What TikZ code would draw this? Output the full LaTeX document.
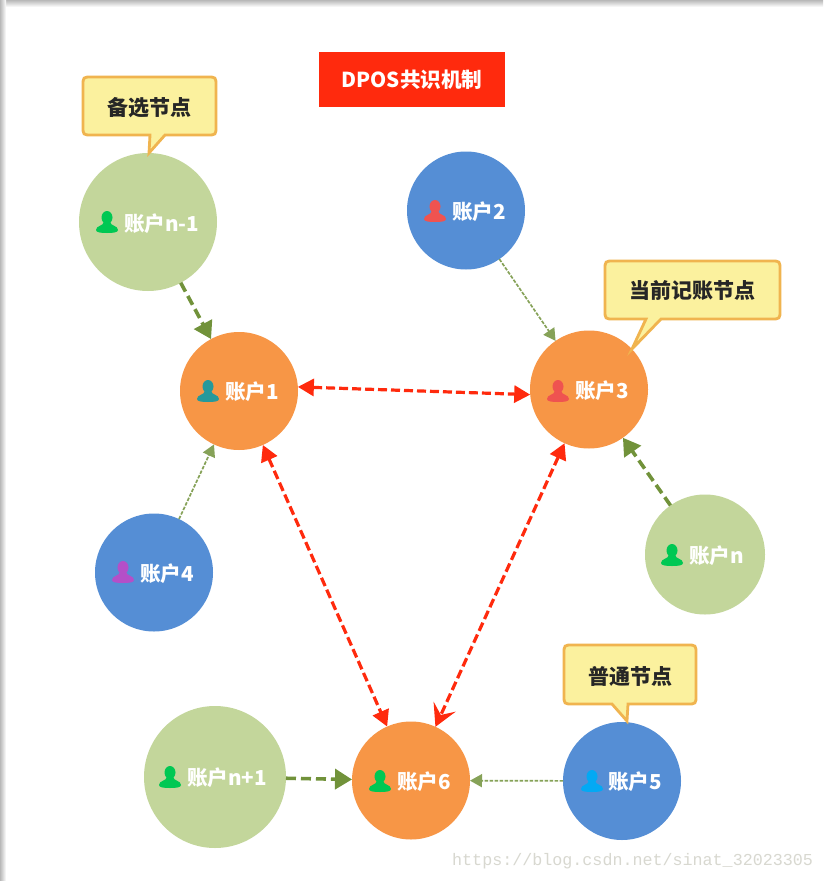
\documentclass[tikz,border=0pt]{standalone}
\usepackage{fontspec}
\setmainfont{Noto Sans CJK SC}
\newfontfamily\wmfont{Liberation Mono}
\usetikzlibrary{arrows.meta}
\definecolor{cOrange}{HTML}{F79646}
\definecolor{cBlue}{HTML}{558ED5}
\definecolor{cLime}{HTML}{C3D69B}
\definecolor{cLine}{HTML}{71923A}
\definecolor{cRed}{HTML}{FF2A0D}
\definecolor{cFill}{HTML}{FBF19E}
\definecolor{cEdge}{HTML}{F0B44F}
\definecolor{cTeal}{HTML}{26999B}
\definecolor{cCoral}{HTML}{EF5350}
\definecolor{cPurple}{HTML}{B44FC8}
\definecolor{cGreen}{HTML}{00C853}
\definecolor{cSky}{HTML}{03A9F4}
\definecolor{cMark}{HTML}{D8D8D0}
\tikzset{
  acct/.style={circle,inner sep=0pt,outer sep=0pt,draw=none},
  orangeacct/.style={acct,fill=cOrange,minimum size=118pt},
  blueacct/.style={acct,fill=cBlue,minimum size=118pt},
  limeacct/.style={acct,fill=cLime},
  acctlabel/.style={anchor=west,inner sep=0pt,text=white,font=\fontsize{20.6}{21}\selectfont\bfseries},
  tiptext/.style={inner sep=0pt,text=black!85,font=\fontsize{21}{21}\selectfont\bfseries},
  tipbox/.style={fill=cFill,draw=cEdge,line width=2.8pt,line join=miter},
  heavy/.style={draw=cLine,line width=3.6pt,dash pattern=on 10pt off 5pt,-{Triangle[length=17pt,width=20pt]}},
  light/.style={draw=cLine!85,line width=1.7pt,dash pattern=on 3.5pt off 1.5pt,-{Triangle[length=12pt,width=13pt]}},
  link/.style={draw=cRed,line width=3.2pt,dash pattern=on 9pt off 4pt,{Triangle[length=16pt,width=17pt]}-{Triangle[length=16pt,width=17pt]}},
  linkb/.style={draw=cRed,line width=3.2pt,dash pattern=on 9pt off 4pt,{Triangle[length=16pt,width=17pt]}-{Stealth[length=22pt,width=24pt,inset=9pt]}},
  person/.pic={
    \fill[pic actions] (0,-4.5) ellipse (5.5 and 6.5);
    \fill[pic actions] (-3.2,0) -- (3.2,0) .. controls (3.4,4) and (11,3.5) .. (11,8)
      .. controls (11,10.5) and (6,11) .. (0,11) .. controls (-6,11) and (-11,10.5) .. (-11,8)
      .. controls (-11,3.5) and (-3.4,4) .. (-3.2,0) -- cycle;
  }
}
\newcommand{\tipshape}[8]{%
  \path[tipbox] (#5,#4) -- (#7,#8) -- (#6,#4) -- (#3-9,#4) .. controls (#3,#4) .. (#3,#4-9) -- (#3,#2+9) .. controls (#3,#2) .. (#3-9,#2) -- (#1+9,#2) .. controls (#1,#2) .. (#1,#2+9) -- (#1,#4-9) .. controls (#1,#4) .. (#1+9,#4) -- cycle;
}
\begin{document}
\begin{tikzpicture}[x=1pt,y=-1pt]
\useasboundingbox (0,0) rectangle (823,881);
\fill[white] (0,0) rectangle (823,881);
\shade[top color=black!28,bottom color=white] (0,0) rectangle (823,7);
\shade[left color=black!28,right color=white] (0,0) rectangle (6,881);

\node[inner sep=0pt,minimum width=186pt,minimum height=55pt,fill=cRed,text=white,font=\fontsize{20.6}{21}\selectfont\bfseries] (title) at (412,79.5) {DPOS共识机制};

\node[limeacct,minimum size=138pt] (nm) at (148,222) {};
\node[blueacct] (a2) at (466,210.5) {};
\node[orangeacct] (a1) at (239,391) {};
\node[orangeacct] (a3) at (589,389.5) {};
\node[blueacct] (a4) at (154,572.5) {};
\node[limeacct,minimum size=120pt] (an) at (705,554.5) {};
\node[limeacct,minimum size=142pt] (np) at (215,777) {};
\node[orangeacct] (a6) at (411,780.5) {};
\node[blueacct] (a5) at (622,781) {};

\pic[fill=cGreen] at (107,222) {person};
\pic[fill=cCoral] at (435,211) {person};
\pic[fill=cTeal] at (208,391) {person};
\pic[fill=cCoral] at (558,391) {person};
\pic[fill=cPurple] at (123,572) {person};
\pic[fill=cGreen] at (672,555) {person};
\pic[fill=cGreen] at (170,777) {person};
\pic[fill=cGreen] at (380,781) {person};
\pic[fill=cSky] at (592,781) {person};

\node[acctlabel] (lnm) at (124,224) {账户n-1};
\node[acctlabel] (l2) at (452,212) {账户2};
\node[acctlabel] (l1) at (225,392) {账户1};
\node[acctlabel] (l3) at (575,391) {账户3};
\node[acctlabel] (l4) at (140,574) {账户4};
\node[acctlabel] (ln) at (689,556) {账户n};
\node[acctlabel] (lnp) at (187,778) {账户n+1};
\node[acctlabel] (l6) at (397,782) {账户6};
\node[acctlabel] (l5) at (608,782) {账户5};

\tipshape{83}{77}{216}{135}{150}{165}{149}{153}
\tipshape{605}{261}{780}{319}{646}{661}{632}{349}
\tipshape{564}{645}{696}{704}{612}{628}{627}{721}
\node[tiptext] (t1) at (149.5,108) {备选节点};
\node[tiptext] (t2) at (692.5,291) {当前记账节点};
\node[tiptext] (t3) at (630,676) {普通节点};

\draw[heavy] (nm) -- (a1);
\draw[light] (a2) -- (a3);
\draw[light] (a4) -- (a1);
\draw[heavy] (an) -- (a3);
\draw[heavy] (np) -- (a6);
\draw[light] (a5) -- (a6);
\draw[link] (a1.4) -- (a3.185);
\draw[link] (a1) -- (a6);
\draw[linkb] (a3) -- (a6);

\node[anchor=west,inner sep=0pt,text=cMark,font=\fontsize{16.7}{17}\selectfont\wmfont] (mark) at (452,861) {https://blog.csdn.net/sinat\_32023305};
\end{tikzpicture}
\end{document}
